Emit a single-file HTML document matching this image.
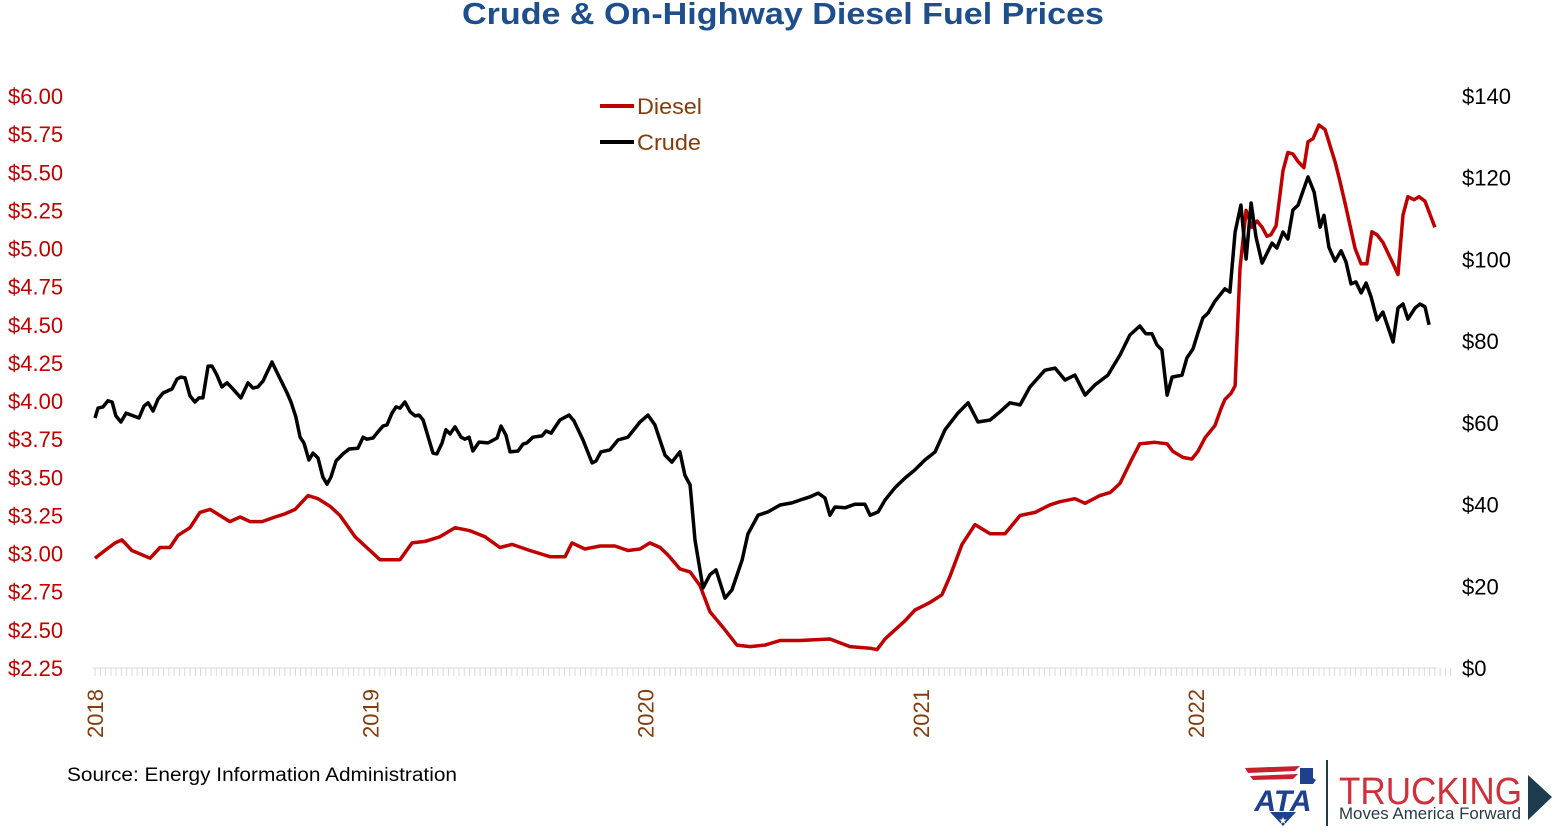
<!DOCTYPE html>
<html><head><meta charset="utf-8"><style>
body{margin:0;background:#fff;width:1554px;height:828px;overflow:hidden;font-family:"Liberation Sans",sans-serif}
</style></head><body>
<svg id="chart" width="1554" height="828" viewBox="0 0 1554 828" xmlns="http://www.w3.org/2000/svg">
<text x="783" y="24" text-anchor="middle" font-size="31" font-weight="bold" fill="#1f4e8c" textLength="642" lengthAdjust="spacingAndGlyphs">Crude &amp; On-Highway Diesel Fuel Prices</text>
<g id="axes"></g>
<g id="series"></g>
<g>
<line x1="600" y1="106" x2="634" y2="106" stroke="#c00000" stroke-width="4"/>
<text x="637" y="114" font-size="22" fill="#843c0c" textLength="65" lengthAdjust="spacingAndGlyphs">Diesel</text>
<line x1="600" y1="142" x2="634" y2="142" stroke="#000" stroke-width="4"/>
<text x="637" y="150" font-size="22" fill="#843c0c" textLength="64" lengthAdjust="spacingAndGlyphs">Crude</text>
</g>
<text x="67" y="781" font-size="19" fill="#000" textLength="390" lengthAdjust="spacingAndGlyphs">Source: Energy Information Administration</text>
<g>
<path d="M1245 768 L1300 766 L1295 771 L1248 773 Z" fill="#c8202f"/>
<path d="M1250 776 L1298 774 L1293 779 L1253 780 Z" fill="#c8202f"/>
<path d="M1300 768 L1313 768 L1313 778 L1316 780 L1313 784 L1300 784 Z" fill="#1f3f8f"/>
<text x="1283" y="811" text-anchor="middle" font-size="30" font-weight="bold" font-style="italic" fill="#1f3f8f">ATA</text>
<path d="M1270 812 L1296 812 L1283 826 Z" fill="#1f3f8f"/>
<text x="1283" y="824" text-anchor="middle" font-size="10" fill="#fff">★</text>
<line x1="1327" y1="760" x2="1327" y2="826" stroke="#1d3c4f" stroke-width="2"/>
<text x="1339" y="804" font-size="38" fill="#d0303a" textLength="183" lengthAdjust="spacingAndGlyphs">TRUCKING</text>
<text x="1339" y="819" font-size="17" fill="#2a3a46" textLength="182" lengthAdjust="spacingAndGlyphs">Moves America Forward</text>
<path d="M1528 775 L1552 797 L1528 820 Z" fill="#1d3c4f"/>
</g>
</svg>
<script>
const dieselDates=[2018.000,2018.036,2018.073,2018.098,2018.134,2018.200,2018.236,2018.272,2018.302,2018.345,2018.381,2018.418,2018.454,2018.490,2018.527,2018.563,2018.607,2018.654,2018.690,2018.727,2018.774,2018.810,2018.854,2018.890,2018.945,2018.999,2019.035,2019.108,2019.152,2019.199,2019.253,2019.308,2019.362,2019.417,2019.471,2019.515,2019.580,2019.653,2019.708,2019.733,2019.780,2019.835,2019.889,2019.936,2019.980,2020.016,2020.053,2020.082,2020.125,2020.162,2020.198,2020.234,2020.289,2020.332,2020.380,2020.434,2020.489,2020.561,2020.670,2020.743,2020.816,2020.841,2020.870,2020.906,2020.943,2020.979,2021.034,2021.077,2021.106,2021.150,2021.197,2021.252,2021.306,2021.361,2021.415,2021.470,2021.506,2021.560,2021.597,2021.651,2021.688,2021.724,2021.767,2021.796,2021.851,2021.895,2021.916,2021.953,2021.985,2022.007,2022.033,2022.069,2022.091,2022.105,2022.127,2022.142,2022.160,2022.182,2022.203,2022.222,2022.240,2022.258,2022.272,2022.291,2022.316,2022.334,2022.352,2022.371,2022.392,2022.407,2022.425,2022.447,2022.469,2022.505,2022.523,2022.545,2022.578,2022.600,2022.621,2022.639,2022.658,2022.679,2022.716,2022.734,2022.752,2022.770,2022.792,2022.810,2022.832,2022.868];
const dieselValues=[2.97,3.02,3.07,3.09,3.02,2.97,3.04,3.04,3.12,3.17,3.27,3.29,3.25,3.21,3.24,3.21,3.21,3.24,3.26,3.29,3.38,3.36,3.31,3.25,3.11,3.02,2.96,2.96,3.07,3.08,3.11,3.17,3.15,3.11,3.04,3.06,3.02,2.98,2.98,3.07,3.03,3.05,3.05,3.02,3.03,3.07,3.04,2.99,2.90,2.88,2.79,2.62,2.50,2.40,2.39,2.40,2.43,2.43,2.44,2.39,2.38,2.37,2.44,2.50,2.56,2.63,2.68,2.73,2.85,3.06,3.19,3.13,3.13,3.25,3.27,3.32,3.34,3.36,3.33,3.38,3.40,3.46,3.62,3.72,3.73,3.72,3.67,3.63,3.62,3.67,3.76,3.84,3.95,4.01,4.05,4.10,4.87,5.25,5.14,5.18,5.14,5.08,5.09,5.15,5.51,5.63,5.62,5.57,5.53,5.70,5.72,5.81,5.78,5.57,5.44,5.27,5.00,4.90,4.90,5.11,5.09,5.04,4.90,4.83,5.22,5.34,5.32,5.34,5.31,5.14];
const crudeDates=[2018.000,2018.011,2018.029,2018.047,2018.062,2018.076,2018.094,2018.113,2018.160,2018.178,2018.193,2018.211,2018.229,2018.247,2018.280,2018.298,2018.312,2018.327,2018.345,2018.363,2018.378,2018.392,2018.411,2018.425,2018.443,2018.461,2018.480,2018.498,2018.530,2018.556,2018.574,2018.592,2018.610,2018.643,2018.661,2018.698,2018.712,2018.730,2018.745,2018.759,2018.777,2018.792,2018.810,2018.828,2018.843,2018.857,2018.876,2018.901,2018.923,2018.955,2018.974,2018.988,2019.010,2019.028,2019.046,2019.061,2019.079,2019.094,2019.108,2019.126,2019.145,2019.163,2019.177,2019.192,2019.228,2019.242,2019.261,2019.275,2019.290,2019.308,2019.330,2019.344,2019.359,2019.373,2019.395,2019.428,2019.461,2019.475,2019.493,2019.508,2019.537,2019.555,2019.569,2019.591,2019.624,2019.639,2019.657,2019.689,2019.722,2019.740,2019.773,2019.806,2019.820,2019.838,2019.871,2019.900,2019.936,2019.980,2020.009,2020.034,2020.071,2020.096,2020.125,2020.143,2020.162,2020.180,2020.209,2020.234,2020.256,2020.289,2020.314,2020.351,2020.372,2020.409,2020.445,2020.489,2020.532,2020.561,2020.598,2020.627,2020.652,2020.670,2020.688,2020.725,2020.761,2020.797,2020.816,2020.845,2020.870,2020.906,2020.943,2020.979,2021.015,2021.052,2021.088,2021.135,2021.172,2021.208,2021.252,2021.288,2021.324,2021.361,2021.397,2021.451,2021.488,2021.524,2021.560,2021.597,2021.633,2021.680,2021.724,2021.760,2021.796,2021.818,2021.840,2021.858,2021.876,2021.895,2021.913,2021.949,2021.967,2021.989,2022.007,2022.025,2022.044,2022.069,2022.105,2022.123,2022.142,2022.163,2022.182,2022.200,2022.218,2022.240,2022.276,2022.294,2022.316,2022.334,2022.352,2022.371,2022.407,2022.429,2022.451,2022.465,2022.483,2022.505,2022.527,2022.545,2022.563,2022.581,2022.600,2022.618,2022.636,2022.658,2022.679,2022.716,2022.734,2022.752,2022.770,2022.796,2022.814,2022.832,2022.847];
const crudeValues=[61.2,63.6,63.9,65.4,65.1,61.7,60.2,62.4,61.2,64.1,64.9,62.9,65.8,67.3,68.3,70.7,71.2,71.0,66.6,65.1,66.1,66.1,73.9,73.9,71.7,68.8,69.8,68.5,66.1,69.8,68.5,68.8,70.2,74.9,72.4,67.3,65.1,61.4,56.5,55.1,50.9,52.6,51.4,46.7,45.0,46.7,50.7,52.4,53.6,53.8,56.5,56.0,56.3,57.8,59.2,59.5,62.4,63.9,63.6,65.1,62.7,61.7,61.9,60.7,52.6,52.4,55.1,58.3,57.3,59.0,56.5,56.0,56.5,53.1,55.3,55.1,56.3,59.2,57.0,52.9,53.1,54.8,55.1,56.5,56.8,58.0,57.5,60.7,61.9,60.5,55.8,50.2,50.7,52.9,53.4,55.8,56.5,60.2,61.9,59.5,52.1,50.4,52.9,47.2,44.8,31.3,19.6,22.8,24.0,17.1,19.1,26.4,32.8,37.4,38.2,39.9,40.4,41.1,41.9,42.8,41.6,37.4,39.4,39.2,40.1,40.1,37.4,38.2,41.1,44.1,46.5,48.5,50.9,52.9,58.3,62.4,64.9,60.2,60.7,62.7,64.9,64.4,68.8,72.9,73.4,70.5,71.7,66.8,69.3,71.7,76.6,81.5,83.7,81.8,81.8,79.1,77.8,66.8,71.2,71.7,75.9,78.1,82.0,85.7,86.9,89.8,92.8,92.0,106.7,113.3,100.1,113.8,105.5,99.1,104.0,102.8,106.7,105.0,112.1,113.3,120.2,116.5,107.9,110.8,103.0,99.6,102.1,99.4,94.0,94.5,91.8,94.2,90.8,85.2,87.1,79.8,88.1,89.1,85.4,88.1,89.1,88.4,84.0];
const leftTicks=[2.25,2.50,2.75,3.00,3.25,3.50,3.75,4.00,4.25,4.50,4.75,5.00,5.25,5.50,5.75,6.00];
const rightTicks=[0,20,40,60,80,100,120,140];
const yearTicks=[2018,2019,2020,2021,2022];

const NS="http://www.w3.org/2000/svg";
const xS=t=>95+(t-2018)*275.25;
const yL=v=>668-(v-2.25)*(572/3.75);
const yR=v=>668-v*(572/140);
const axes=document.getElementById('axes'), ser=document.getElementById('series');
function mk(tag,attrs,parent){const e=document.createElementNS(NS,tag);for(const k in attrs)e.setAttribute(k,attrs[k]);parent.appendChild(e);return e;}

for(let w=0;w<=257;w++){
  const x=xS(2018+w*7/365.25);
  const tk=mk('line',{x1:x,y1:668,x2:x,y2:676,stroke:'#d9d9d9','stroke-width':1},axes);
  
  
}
const base=mk('line',{x1:93,y1:668,x2:1437,y2:668,stroke:'#d9d9d9','stroke-width':1},axes);



leftTicks.forEach(v=>{
  const t=mk('text',{x:8,y:yL(v)+8,'font-size':22,fill:'#c00000'},axes);
  t.textContent='$'+v.toFixed(2);
  
  
});
rightTicks.forEach(v=>{
  const t=mk('text',{x:1462,y:yR(v)+8,'font-size':22,fill:'#000'},axes);
  t.textContent='$'+v;
  
  
});
yearTicks.forEach(v=>{
  const x=xS(v)+8;
  const t=mk('text',{x:x,y:738,'font-size':22,fill:'#843c0c',transform:`rotate(-90 ${x} 738)`},axes);
  t.textContent=v;
  
  
});

const dp=mk('polyline',{points:dieselDates.map((d,i)=>xS(d).toFixed(1)+','+yL(dieselValues[i]).toFixed(1)).join(' '),fill:'none',stroke:'#c00000','stroke-width':3.5,'stroke-linejoin':'round'},ser);


const cp=mk('polyline',{points:crudeDates.map((d,i)=>xS(d).toFixed(1)+','+yR(crudeValues[i]).toFixed(1)).join(' '),fill:'none',stroke:'#000','stroke-width':3.5,'stroke-linejoin':'round'},ser);


</script>
</body></html>
